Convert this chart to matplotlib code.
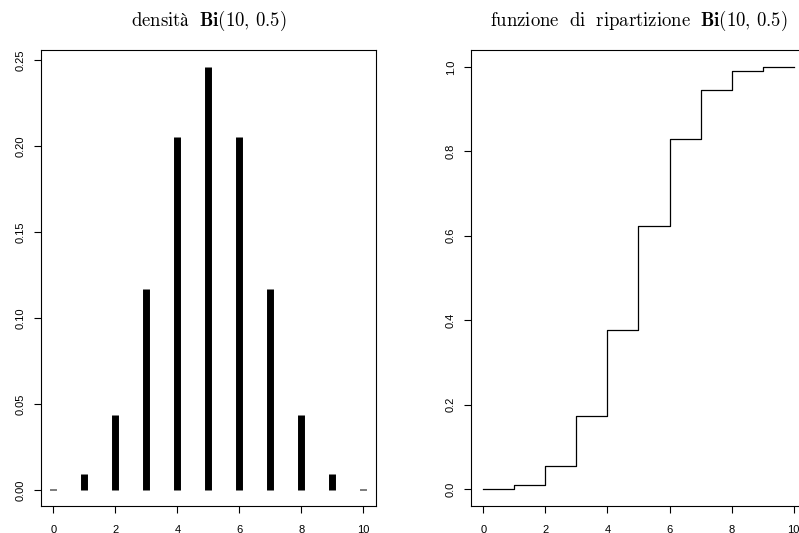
import matplotlib
matplotlib.use("Agg")
import matplotlib.pyplot as plt

plt.rcParams['mathtext.fontset'] = 'cm'
plt.rcParams['font.family'] = ['Liberation Sans', 'DejaVu Sans']

x_values = [0, 1, 2, 3, 4, 5, 6, 7, 8, 9, 10]
density = [0.000977, 0.009766, 0.043945, 0.117188, 0.205078, 0.246094,
           0.205078, 0.117188, 0.043945, 0.009766, 0.000977]
cdf = [0.000977, 0.010742, 0.054688, 0.171875, 0.376953, 0.623047,
       0.828125, 0.945313, 0.989258, 0.999023, 1.0]
x_ticks = [0, 2, 4, 6, 8, 10]
left_yticks = [0.00, 0.05, 0.10, 0.15, 0.20, 0.25]
left_ylabels = ["0.00", "0.05", "0.10", "0.15", "0.20", "0.25"]
right_yticks = [0.0, 0.2, 0.4, 0.6, 0.8, 1.0]
right_ylabels = ["0.0", "0.2", "0.4", "0.6", "0.8", "1.0"]
title_left = r"$\mathrm{densità}\ \ \mathbf{Bi}(10,\,0.5)$"
title_right = r"$\mathrm{funzione\ \ di\ \ ripartizione}\ \ \mathbf{Bi}(10,\,0.5)$"

W, H = 799, 533
fig = plt.figure(figsize=(W / 100, H / 100), dpi=100)

bottom = (H - 505.5) / H
height = 455.5 / H
ax1 = fig.add_axes([41 / W, bottom, 334.7 / W, height])
ax2 = fig.add_axes([471 / W, bottom, 335 / W, height])


def rng(lo, hi):
    d = (hi - lo) * 0.04
    return lo - d, hi + d


ax1.vlines(x_values, 0, density, colors='black', linewidth=5, capstyle='butt')
ax1.set_xlim(*rng(min(x_values), max(x_values)))
ax1.set_ylim(*rng(min(density), max(density)))
ax1.set_yticks(left_yticks)
ax1.set_yticklabels(left_ylabels)

ax2.step(x_values, cdf, where='post', color='black', linewidth=0.9)
ax2.set_xlim(*rng(min(x_values), max(x_values)))
ax2.set_ylim(*rng(min(cdf), max(cdf)))
ax2.set_yticks(right_yticks)
ax2.set_yticklabels(right_ylabels)

for ax, t in [(ax1, title_left), (ax2, title_right)]:
    ax.set_xticks(x_ticks)
    ax.set_xticklabels([str(v) for v in x_ticks])
    ax.tick_params(axis='both', direction='out', length=5, width=0.8,
                   labelsize=8, colors='black')
    ax.tick_params(axis='x', pad=9)
    ax.tick_params(axis='y', pad=6)
    for lab in ax.get_yticklabels():
        lab.set_rotation(90)
        lab.set_va('center')
    for s in ax.spines.values():
        s.set_linewidth(0.8)
    ax.set_title(t, fontsize=13.5, pad=17)

fig.savefig("out.png", dpi=100)
